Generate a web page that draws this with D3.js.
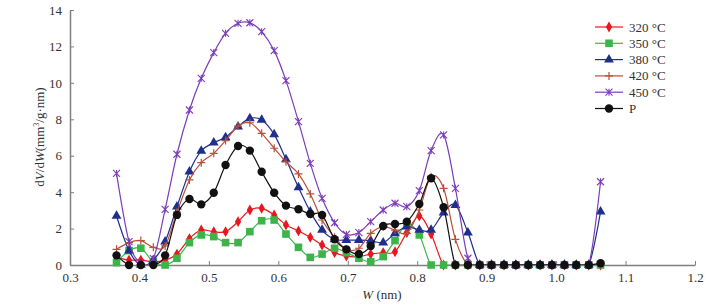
<!DOCTYPE html>
<html>
<head>
<meta charset="utf-8">
<script src="https://d3js.org/d3.v7.min.js"></script>
<style>
  body { margin: 0; background: #fff; }
  svg text { font-family: "Times New Roman", "Liberation Serif", serif; fill: #333; }
</style>
</head>
<body>
<svg id="chart" width="724" height="305"></svg>
<script>
// pore width (nm)
const poreWidth = [0.367, 0.385, 0.402, 0.420, 0.437, 0.454, 0.472, 0.489, 0.507, 0.524,
  0.542, 0.559, 0.576, 0.594, 0.611, 0.629, 0.646, 0.663, 0.681, 0.698,
  0.716, 0.733, 0.751, 0.768, 0.785, 0.803, 0.820, 0.838, 0.855, 0.873,
  0.890, 0.907, 0.925, 0.942, 0.960, 0.977, 0.994, 1.012, 1.029, 1.047, 1.064];

const s320 = [0.42, 0.27, 0.27, 0.18, 0.27, 0.60, 1.45, 1.92, 1.83, 1.83,
  2.38, 3.02, 3.11, 2.75, 2.20, 1.87, 1.52, 1.10, 0.68, 0.49,
  0.46, 0.60, 0.68, 0.73, 1.78, 2.69, 1.70, 0, 0, 0,
  0, 0, 0, 0, 0, 0, 0, 0, 0, 0, 0];
const s350 = [0.13, 0.79, 0.92, 0.18, 0, 0.37, 1.23, 1.65, 1.56, 1.23,
  1.23, 1.83, 2.43, 2.47, 1.70, 0.97, 0.42, 0.60, 0.92, 0.68,
  0.37, 0.18, 0.46, 1.34, 2.25, 1.65, 0, 0, 0, 0,
  0, 0, 0, 0, 0, 0, 0, 0, 0, 0, 0];
const s380 = [2.69, 0.79, 0, 0.27, 1.28, 3.20, 5.12, 6.26, 6.72, 7.01,
  7.60, 8.05, 7.96, 7.17, 5.80, 4.26, 2.93, 1.92, 1.41, 1.37,
  1.37, 1.34, 1.23, 1.74, 2.10, 1.92, 1.92, 2.87, 3.29, 1.78,
  0, 0, 0, 0, 0, 0, 0, 0, 0, 0, 2.93];
const s420 = [0.86, 1.23, 1.34, 0.97, 1.05, 2.90, 4.67, 5.62, 6.13, 6.83,
  7.63, 7.81, 7.23, 6.41, 5.67, 5.00, 3.90, 2.47, 1.52, 0.86,
  0.92, 1.74, 2.10, 1.92, 1.74, 3.02, 4.85, 4.21, 1.41, 0,
  0, 0, 0, 0, 0, 0, 0, 0, 0, 0, 0];
const s450 = [5.03, 1.28, 0.10, 0.35, 3.06, 6.08, 8.51, 10.25, 11.66, 12.72,
  13.27, 13.30, 12.81, 11.77, 10.12, 7.87, 5.58, 3.66, 2.32, 1.68,
  1.78, 2.38, 3.02, 3.39, 3.20, 4.08, 6.28, 7.14, 4.21, 0.37,
  0, 0, 0, 0, 0, 0, 0, 0, 0, 0, 4.57];
const sP = [0.53, 0, 0, 0, 0.53, 2.75, 3.62, 3.33, 3.97, 5.49,
  6.53, 6.28, 5.12, 3.97, 3.26, 3.06, 2.80, 2.75, 1.41, 0.86,
  0.60, 1.04, 2.14, 2.25, 2.38, 3.35, 4.76, 3.17, 0, 0,
  0, 0, 0, 0, 0, 0, 0, 0, 0, 0, 0.10];

const seriesNames = ["320 °C", "350 °C", "380 °C", "420 °C", "450 °C", "P"];
const xTicks = [0.3, 0.4, 0.5, 0.6, 0.7, 0.8, 0.9, 1.0, 1.1, 1.2];
const yTicks = [0, 2, 4, 6, 8, 10, 12, 14];

const series = [
  {name: seriesNames[0], values: s320, color: "#e8161e", marker: "diamond"},
  {name: seriesNames[1], values: s350, color: "#3cb44a", marker: "square"},
  {name: seriesNames[2], values: s380, color: "#1f2f8c", marker: "triangle"},
  {name: seriesNames[3], values: s420, color: "#b8503a", marker: "plus"},
  {name: seriesNames[4], values: s450, color: "#7b3db8", marker: "cross"},
  {name: seriesNames[5], values: sP, color: "#111111", marker: "circle"}
];

const margin = {top: 10, right: 29, bottom: 40, left: 70};
const width = 724 - margin.left - margin.right,
      height = 305 - margin.top - margin.bottom;

const svg = d3.select("#chart");
const g = svg.append("g").attr("transform", `translate(${margin.left},${margin.top})`);

const x = d3.scaleLinear().domain([0.3, 1.2]).range([0, width]);
const y = d3.scaleLinear().domain([0, 14]).range([height, 0]);

// keep smoothed lines from dipping below the x axis
svg.append("defs").append("clipPath").attr("id", "plotClip")
  .append("rect").attr("x", 0).attr("y", -10).attr("width", width).attr("height", height + 10);

// axes (ticks point inward)
const xAxis = g.append("g")
  .attr("transform", `translate(0,${height})`)
  .call(d3.axisBottom(x).tickValues(xTicks).tickFormat(d3.format(".1f")).tickSizeInner(-4).tickSizeOuter(0).tickPadding(8));
const yAxis = g.append("g")
  .call(d3.axisLeft(y).tickValues(yTicks).tickSizeInner(-4).tickSizeOuter(0).tickPadding(8));
[xAxis, yAxis].forEach(a => {
  a.attr("font-family", null);
  a.select(".domain").attr("stroke", "#7f7f7f").attr("stroke-width", 1.5);
  a.selectAll(".tick line").attr("stroke", "#7f7f7f").attr("stroke-width", 1);
  a.selectAll(".tick text").attr("font-size", 13).attr("fill", "#333");
});

// marker drawing
function drawMarker(sel, type, color) {
  if (type === "circle") {
    sel.append("circle").attr("r", 4.2).attr("fill", color);
  } else if (type === "square") {
    sel.append("rect").attr("x", -3.8).attr("y", -3.8).attr("width", 7.6).attr("height", 7.6).attr("fill", color);
  } else if (type === "diamond") {
    sel.append("path").attr("d", d3.symbol(d3.symbolDiamond, 34)).attr("fill", color);
  } else if (type === "triangle") {
    sel.append("path").attr("d", d3.symbol(d3.symbolTriangle, 42)).attr("fill", color);
  } else if (type === "plus") {
    sel.append("path").attr("d", "M-4,0H4M0,-4V4").attr("stroke", color).attr("stroke-width", 1.2);
  } else if (type === "cross") {
    sel.append("path").attr("d", "M-3.5,-3.5L3.5,3.5M-3.5,3.5L3.5,-3.5M0,-3.5V3.5").attr("stroke", color).attr("stroke-width", 1.1);
  }
}

const line = d3.line()
  .x((d, i) => x(poreWidth[i]))
  .y(d => y(d))
  .curve(d3.curveCatmullRom.alpha(0));

series.forEach(s => {
  const sg = g.append("g");
  sg.append("path")
    .datum(s.values)
    .attr("fill", "none")
    .attr("stroke", s.color)
    .attr("stroke-width", 1.2)
    .attr("clip-path", "url(#plotClip)")
    .attr("d", line);
  sg.selectAll("g.pt")
    .data(s.values)
    .join("g")
    .attr("class", "pt")
    .attr("transform", (d, i) => `translate(${x(poreWidth[i])},${y(d)})`)
    .each(function() { drawMarker(d3.select(this), s.marker, s.color); });
});

// legend
const legend = svg.append("g").attr("transform", "translate(595,27)");
series.forEach((s, i) => {
  const row = legend.append("g").attr("transform", `translate(0,${i * 16.3})`);
  row.append("line").attr("x1", 0).attr("x2", 28).attr("stroke", s.color).attr("stroke-width", 1.2);
  drawMarker(row.append("g").attr("transform", "translate(14,0)"), s.marker, s.color);
  row.append("text").attr("x", 34).attr("y", 4.5).attr("font-size", 13).text(s.name);
});

// axis titles
const yTitle = svg.append("text")
  .attr("transform", "translate(44,137) rotate(-90)")
  .attr("text-anchor", "middle")
  .attr("font-size", 13);
yTitle.append("tspan").text("d");
yTitle.append("tspan").attr("font-style", "italic").text("V");
yTitle.append("tspan").text("/d");
yTitle.append("tspan").attr("font-style", "italic").text("W");
yTitle.append("tspan").text("(mm");
yTitle.append("tspan").attr("font-size", 8).attr("dy", -5).text("3");
yTitle.append("tspan").attr("dy", 5).text("/g·nm)");

const xTitle = svg.append("text")
  .attr("x", 382).attr("y", 299)
  .attr("text-anchor", "middle")
  .attr("font-size", 13);
xTitle.append("tspan").attr("font-style", "italic").text("W");
xTitle.append("tspan").text(" (nm)");
</script>
</body>
</html>
